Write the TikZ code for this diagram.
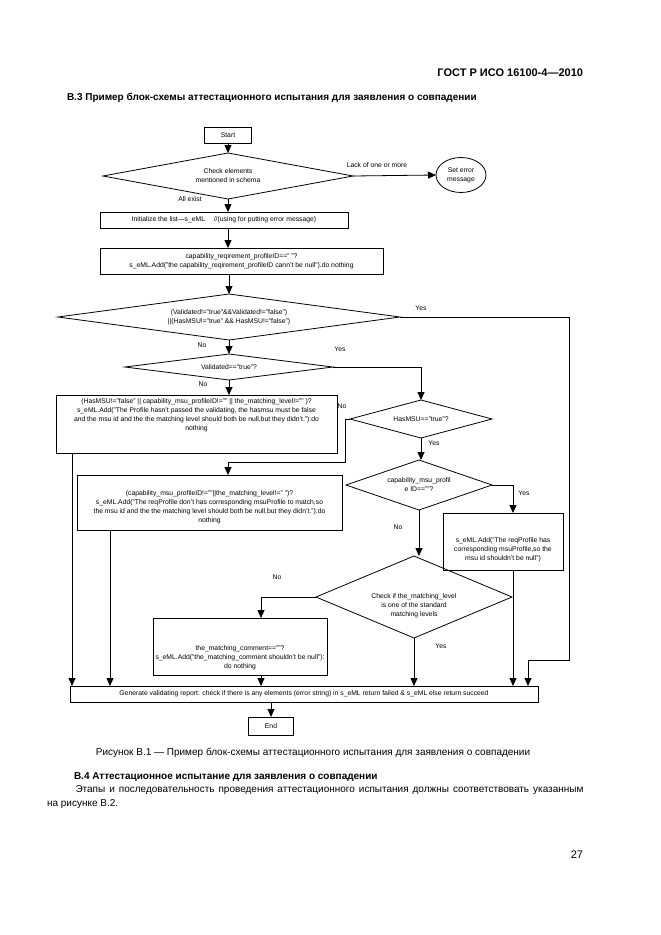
\documentclass[tikz,border=0pt]{standalone}
\usepackage{fontspec}
\setmainfont{Liberation Sans}
\usetikzlibrary{shapes.geometric,arrows.meta}
\begin{document}
\begin{tikzpicture}[x=1pt,y=-1pt,
  every node/.style={inner sep=0pt,outer sep=0pt},
  fc/.style={font=\fontsize{6.8}{8.9}\selectfont,align=center},
  box/.style={draw,line width=.8pt,fc},
  dia/.style={draw,diamond,line width=.8pt,fc},
  lbl/.style={font=\fontsize{6.8}{8}\selectfont},
  arr/.style={line width=.8pt,-{Triangle[length=8pt,width=7pt]}},
  ln/.style={line width=.8pt}]
\useasboundingbox (0,0) rectangle (661,935);
\fill[white] (0,0) rectangle (661,935);

\node[font=\fontsize{11}{13}\selectfont\bfseries, anchor=base east] (hdr) at (583,76) {ГОСТ Р ИСО 16100-4—2010};
\node[font=\fontsize{10}{12}\selectfont\bfseries, anchor=base west] (ttl) at (67,100) {В.3 Пример блок-схемы аттестационного испытания для заявления о совпадении};

\node[box,minimum width=47,minimum height=16] (start) at (228,135.5) {Start};
\node[dia,minimum width=250,minimum height=46,shape aspect=5.43] (d1) at (228,176) {Check elements\\mentioned in schema};
\node[draw,ellipse,line width=.8pt,fc,minimum width=50,minimum height=35] (err) at (461,175) {Set error\\message};
\node[box,minimum width=248,minimum height=16] (init) at (224,220) {Initialize the list—s\_eML\quad\ //(using for putting error message)};
\node[box,minimum width=283,minimum height=26] (cap) at (241.5,261) {capability\_reqirement\_profileID==" "?\\s\_eML.Add("the capability\_reqirement\_profileID cann't be null").do nothing};
\node[dia,minimum width=342,minimum height=46,shape aspect=7.43] (d2) at (229,317) {(Validated!="true"\&\&Validated!="false")\\||(HasMSU!="true" \&\& HasMSU!="false")};
\node[dia,minimum width=208,minimum height=26,shape aspect=8] (d3) at (229,367) {Validated=="true"?};
\node[box,minimum width=281,minimum height=58] (bA) at (196.5,424) {};
\node[fc] (tA) at (196.5,415) {(HasMSU!="false" || capability\_msu\_profileID!="" || the\_matching\_level!="" )?\\s\_eML.Add("The Profile hasn't passed the validating, the hasmsu must be false\\and the msu id and the the matching level should both be null,but they didn't."):do\\nothing};
\node[dia,minimum width=142,minimum height=38,shape aspect=3.74] (d4) at (421,419) {HasMSU=="true"?};
\node[dia,minimum width=146,minimum height=50,shape aspect=2.92] (d5) at (419,485) {capability\_msu\_profil\\e ID==""?};
\node[box,minimum width=265,minimum height=55] (bB) at (209.5,502.5) {};
\node[fc] (tB) at (209.5,507) {(capability\_msu\_profileID!=""||the\_matching\_level!=" ")?\\s\_eML.Add("The reqProfile don't has corresponding msuProfile to match,so\\the msu id and the the matching level should both be null,but they didn't."):do\\nothing};
\node[box,minimum width=120,minimum height=57] (bC) at (503,541.5) {};
\node[fc] (tC) at (503,550) {s\_eML.Add("The reqProfile has\\corresponding msuProfile,so the\\msu id shouldn't be null")};
\node[dia,minimum width=196,minimum height=82,shape aspect=2.39] (d6) at (414,597) {};
\node[fc] (t6) at (414,606) {Check if the\_matching\_level\\is one of the standard\\matching levels};
\node[box,minimum width=174,minimum height=57] (bD) at (240,646.5) {};
\node[fc] (tD) at (240,658) {the\_matching\_comment==""?\\s\_eML.Add("the\_matching\_comment shouldn't be null"):\\do nothing};
\node[box,minimum width=468,minimum height=16] (rep) at (304,694) {Generate validating report: check if there is any elements (error string) in s\_eML return failed \& s\_eML else return succeed};
\node[box,minimum width=45,minimum height=18] (end) at (271,726) {End};

\coordinate (cR) at (569,660);
\coordinate (cR2) at (528,660);
\coordinate (cN) at (345,462);
\coordinate (cN2) at (228,462);
\coordinate (cC) at (513,485);
\coordinate (cD) at (261,597);
\coordinate (cA) at (72,0);
\coordinate (cB) at (110,0);

\draw[arr] (start.south) -- (d1.north);
\draw[arr] (d1.east) -- (err.west);
\draw[arr] (d1.south) -- (d1.south |- init.north);
\draw[arr] (d1.south |- init.south) -- (d1.south |- cap.north);
\draw[arr] (d2.north |- cap.south) -- (d2.north);
\draw[arr] (d2.south) -- (d3.north);
\draw[arr] (d2.east) -| (cR) -- (cR2) -- (cR2 |- rep.north);
\draw[arr] (d3.east) -| (d4.north);
\draw[arr] (d3.south) -- (d3.south |- bA.north);
\draw[arr] (d4.south) -- (d4.south |- d5.north);
\draw[arr] (d4.west) -- (cN |- d4.west) -- (cN) -- (cN2) -- (cN2 |- bB.north);
\draw[arr] (d5.east) -- (cC) -- (cC |- bC.north);
\draw[arr] (cC |- bC.south) -- (cC |- rep.north);
\draw[arr] (d5.south) -- (d5.south |- d6.north);
\draw[arr] (d6.south) -- (d6.south |- rep.north);
\draw[arr] (d6.west) -- (cD) -- (cD |- bD.north);
\draw[arr] (cD |- bD.south) -- (cD |- rep.north);
\draw[arr] (cA |- bA.south) -- (cA |- rep.north);
\draw[arr] (cB |- bB.south) -- (cB |- rep.north);
\draw[arr] (end.north |- rep.south) -- (end.north);

\node[lbl] (lLack) at (377,165) {Lack of one or more};
\node[lbl] (lAll) at (190,199) {All exist};
\node[lbl] (lY2) at (421,308) {Yes};
\node[lbl] (lN2) at (202,345) {No};
\node[lbl] (lY3) at (340,349) {Yes};
\node[lbl] (lN3) at (203,384) {No};
\node[lbl] (lN4) at (342,406) {No};
\node[lbl] (lY4) at (434,443) {Yes};
\node[lbl] (lY5) at (524,493) {Yes};
\node[lbl] (lN5) at (398,527) {No};
\node[lbl] (lN6) at (277,577) {No};
\node[lbl] (lY6) at (441,646) {Yes};

\node[font=\fontsize{10}{12}\selectfont, anchor=base] (cap1) at (313,755) {Рисунок В.1 — Пример блок-схемы аттестационного испытания для заявления о совпадении};
\node[font=\fontsize{10}{12}\selectfont\bfseries, anchor=base west] (b4) at (74,779) {В.4 Аттестационное испытание для заявления о совпадении};
\node[font=\fontsize{10}{12}\selectfont, anchor=base west] (p1) at (75.5,792) {\makebox[508pt][s]{Этапы и последовательность проведения аттестационного испытания должны соответствовать указанным}};
\node[font=\fontsize{10}{12}\selectfont, anchor=base west] (p2) at (47,806) {на рисунке В.2.};
\node[font=\fontsize{11}{13}\selectfont, anchor=base east] (pg) at (583,858) {27};
\end{tikzpicture}
\end{document}
